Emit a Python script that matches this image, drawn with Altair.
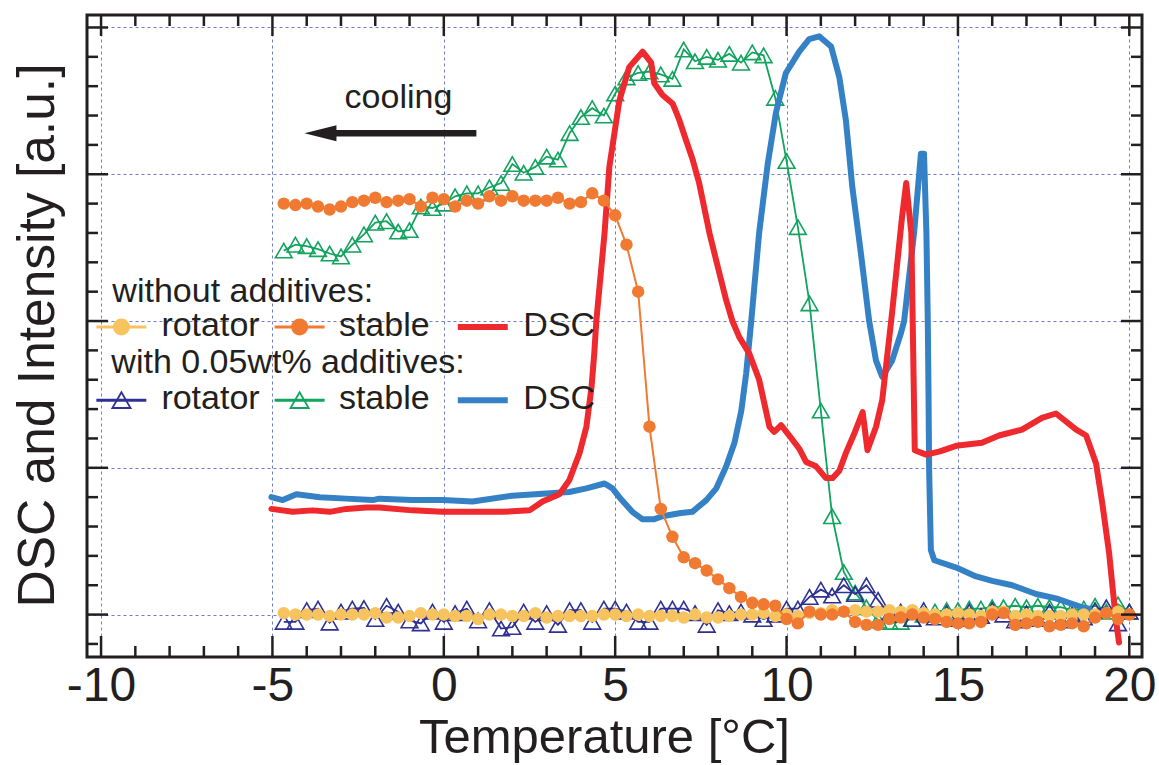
import altair as alt
import pandas as pd

# ---------------- data ----------------
T_STEP = [-4.67, -4.33, -4.00, -3.67, -3.33, -3.00, -2.67, -2.33, -2.00, -1.67,
          -1.33, -1.00, -0.67, -0.33, 0.00, 0.33, 0.67, 1.00, 1.33, 1.67,
          2.00, 2.33, 2.67, 3.00, 3.33, 3.67, 4.00, 4.33, 4.67, 5.00,
          5.33, 5.67, 6.00, 6.33, 6.67, 7.00, 7.33, 7.67, 8.00, 8.33,
          8.67, 9.00, 9.33, 9.67, 10.00, 10.33, 10.67, 11.00, 11.33, 11.67,
          12.00, 12.33, 12.67, 13.00, 13.33, 13.67, 14.00, 14.33, 14.67, 15.00,
          15.33, 15.67, 16.00, 16.33, 16.67, 17.00, 17.33, 17.67, 18.00, 18.33,
          18.67, 19.00, 19.33, 19.67, 20.00]

# without additives: rotator (yellow) and stable (orange)
ROT_NO = [0.01, 0.00, 0.00, 0.00, -0.01, 0.00, 0.00, 0.00, 0.01,
          -0.02, -0.02, -0.01, 0.01, 0.00, 0.00, -0.01, -0.01, -0.03, 0.00,
          0.00, -0.01, -0.01, 0.01, -0.02, -0.01, -0.01, -0.01, -0.01, 0.00,
          0.00, -0.01, 0.00, -0.01, -0.01, -0.01, -0.02, 0.00, -0.02, -0.02,
          -0.01, 0.00, 0.00, 0.01, -0.01, 0.00, -0.01, 0.01, 0.01, 0.03, 0.02,
          0.03, 0.02, 0.02, 0.03, 0.02, 0.03, 0.01, 0.00, 0.00, 0.01,
          0.00, -0.01, 0.02, 0.02, -0.01, 0.00, -0.01, -0.01, -0.01, 0.00,
          0.00, 0.00, 0.01, 0.02, 0.00]
STAB_NO = [2.80, 2.79, 2.80, 2.78, 2.76, 2.78, 2.81, 2.82, 2.84, 2.81,
           2.82, 2.83, 2.78, 2.84, 2.83, 2.78, 2.82, 2.80, 2.85, 2.82,
           2.85, 2.82, 2.82, 2.82, 2.84, 2.80, 2.81, 2.87, 2.82, 2.72,
           2.52, 2.20, 1.28, 0.72, 0.53, 0.39, 0.35, 0.30, 0.24, 0.18,
           0.12, 0.08, 0.07, 0.06, -0.03, -0.06, 0.02, 0.00, 0.00, 0.02,
           -0.05, -0.07, -0.07, -0.03, -0.02, 0.00, -0.02, -0.03, -0.05, -0.06,
           -0.06, -0.05, 0.00, 0.01, -0.07, -0.06, -0.05, -0.08, -0.07, -0.06,
           -0.08, -0.02, 0.01, -0.03, 0.00]

# with 0.05wt% additives: rotator (navy) and stable (green)
ROT_ADD = [-0.05, -0.05, 0.03, 0.04, -0.055, 0.02, 0.04, 0.045, -0.03, 0.06,
           0.02, -0.04, -0.06, 0.02, -0.05, 0.01, 0.04, -0.04, 0.03, -0.095,
           -0.085, 0.02, -0.05, 0.01, -0.07, 0.03, 0.03, -0.05, 0.04, 0.04,
           0.02, -0.05, -0.05, 0.04, 0.04, 0.04, 0.01, -0.07, 0.03,
           0.01, 0.02, 0.00, -0.03, 0.00, 0.04, 0.04, 0.12, 0.17, 0.13,
           0.20, 0.14, 0.20, 0.10, 0.00, 0.02, -0.03, 0.03, -0.02, 0.01,
           -0.03, 0.02, -0.01, 0.03, 0.00, -0.04, 0.01, -0.03, 0.02, -0.04,
           0.00, -0.02, 0.03, 0.05, -0.06, 0.02]
STAB_ADD = [2.48, 2.52, 2.51, 2.49, 2.46, 2.44, 2.52, 2.59, 2.67, 2.68,
            2.61, 2.62, 2.78, 2.77, 2.80, 2.85, 2.87, 2.87, 2.91, 2.94,
            3.07, 3.01, 3.05, 3.12, 3.10, 3.28, 3.39, 3.45, 3.40, 3.55,
            3.66, 3.69, 3.70, 3.68, 3.65, 3.85, 3.77, 3.80, 3.78, 3.82,
            3.76, 3.83, 3.81, 3.52, 3.09, 2.64, 2.12, 1.39, 0.67, 0.29,
            0.15, 0.05, -0.04, -0.05, -0.05, -0.03, 0.00, 0.02, 0.03, 0.03,
            0.04, 0.04, 0.05, 0.05, 0.06, 0.05, 0.06, 0.05, 0.05, 0.03,
            0.04, 0.06, 0.02, 0.07, 0.02]

# DSC without additives (red)
T_DSC_NO = [-5.03, -4.41, -3.83, -3.33, -2.84, -2.26, -1.88, -0.92, -0.04, 0.84,
            1.71, 2.50, 2.88, 3.37, 3.66, 3.96, 4.16, 4.31, 4.39, 4.45,
            4.69, 4.83, 5.12, 5.41, 5.80, 6.05, 6.14, 6.38, 6.68, 6.87,
            7.07, 7.26, 7.45, 7.75, 7.95, 8.24, 8.42, 8.62, 8.91, 9.20,
            9.50, 9.64, 9.84, 10.08, 10.37, 10.57, 10.86, 11.15, 11.34, 11.54,
            11.73, 11.97, 12.22, 12.36, 12.61, 12.79, 13.08, 13.37, 13.49, 13.64,
            13.68, 13.74, 14.07, 14.45, 14.95, 15.70, 16.20, 16.87, 17.45, 17.86,
            18.45, 18.74, 19.03, 19.21, 19.41, 19.61, 19.70]
DSC_NO = [0.72, 0.70, 0.71, 0.70, 0.72, 0.73, 0.73, 0.71, 0.70, 0.70,
          0.70, 0.71, 0.77, 0.82, 0.915, 1.10, 1.28, 1.55, 1.78, 2.00,
          2.60, 3.05, 3.50, 3.73, 3.835, 3.76, 3.62, 3.54, 3.48, 3.37,
          3.23, 3.10, 2.94, 2.60, 2.41, 2.14, 2.00, 1.89, 1.78, 1.60,
          1.28, 1.245, 1.29, 1.22, 1.13, 1.04, 1.01, 0.93, 0.93, 0.98,
          1.10, 1.23, 1.38, 1.12, 1.28, 1.46, 2.06, 2.71, 2.94, 2.60,
          2.00, 1.12, 1.09, 1.11, 1.15, 1.17, 1.22, 1.26, 1.34, 1.37,
          1.26, 1.22, 1.03, 0.76, 0.42, -0.04, -0.19]

# DSC with additives (blue)
T_DSC_ADD = [-5.03, -4.70, -4.30, -3.62, -2.85, -2.08, -1.88, -0.92, -0.04, 0.84,
             2.00, 2.99, 3.66, 4.16, 4.69, 4.92, 5.12, 5.50, 5.79, 6.14,
             6.38, 6.87, 7.25, 7.66, 7.95, 8.24, 8.48, 8.68, 8.82, 8.97,
             9.20, 9.45, 9.69, 9.98, 10.37, 10.66, 10.95, 11.30, 11.54, 11.73,
             11.92, 12.17, 12.41, 12.61, 12.79, 13.08, 13.34, 13.43, 13.72, 13.92,
             14.01, 14.08, 14.12, 14.14, 14.16, 14.21, 14.31, 14.95, 15.53, 16.00,
             16.58, 17.28, 17.86, 18.62, 18.82]
DSC_ADD = [0.80, 0.78, 0.82, 0.80, 0.79, 0.78, 0.79, 0.78, 0.78, 0.77,
           0.81, 0.825, 0.835, 0.86, 0.893, 0.86, 0.80, 0.70, 0.65, 0.65,
           0.67, 0.69, 0.70, 0.78, 0.86, 1.01, 1.17, 1.39, 1.64, 2.00,
           2.60, 3.07, 3.42, 3.69, 3.835, 3.92, 3.94, 3.87, 3.66, 3.37,
           2.91, 2.46, 2.00, 1.73, 1.62, 1.73, 1.92, 2.00, 2.60, 3.14,
           3.14, 2.60, 2.00, 1.55, 0.98, 0.44, 0.37, 0.32, 0.26, 0.23,
           0.20, 0.14, 0.11, 0.05, 0.04]

X_MAJOR = [-10, -5, 0, 5, 10, 15, 20]
X_MINOR = [-9, -8, -7, -6, -4, -3, -2, -1, 1, 2, 3, 4, 6, 7, 8, 9,
           11, 12, 13, 14, 16, 17, 18, 19]
Y_MAJOR = [0, 1, 2, 3, 4]
Y_MINOR = [-0.2, 0.2, 0.4, 0.6, 0.8, 1.2, 1.4, 1.6, 1.8, 2.2, 2.4, 2.6, 2.8,
           3.2, 3.4, 3.6, 3.8]

X_DOMAIN = [-10.41, 20.37]
Y_DOMAIN = [-0.289, 4.085]

# legend / annotation content (data coordinates)
LEG_HEAD = ["without additives:", "with 0.05wt% additives:"]
LEG_HEAD_T = [-9.67, -9.70]
LEG_HEAD_V = [2.131, 1.643]
LEG_LABELS = ["rotator", "stable", "DSC", "rotator", "stable", "DSC"]
LEG_TEXT_T = [-8.24, -3.06, 2.32, -8.24, -3.06, 2.32]
LEG_TEXT_V = [1.897, 1.897, 1.897, 1.404, 1.404, 1.404]
LEG_LINE_T1 = [-10.137, -4.936, 0.408, -10.137, -4.936, 0.408]
LEG_LINE_T2 = [-8.679, -3.478, 1.866, -8.679, -3.478, 1.866]
LEG_LINE_V = [1.960, 1.960, 1.960, 1.461, 1.461, 1.461]
LEG_MARK_T = [-9.405, -4.207]

# ---------------- styling ----------------
FONT = "Liberation Sans"
INK = "#231f20"
GRID = "#6f7fcc"
C_YEL = "#f6c35e"
C_ORA = "#f07a31"
C_RED = "#ee2a2f"
C_NAVY = "#2e3192"
C_GRN = "#12a35e"
C_BLU = "#3581c6"

W, H = 1055, 642

xscale = alt.Scale(domain=X_DOMAIN, nice=False, zero=False)
yscale = alt.Scale(domain=Y_DOMAIN, nice=False, zero=False)

xaxis = alt.Axis(values=X_MAJOR, title="Temperature [°C]",
                 labelExpr="datum.value < 0 ? '-' + abs(datum.value) : '' + datum.value",
                 ticks=False, tickSize=0, domain=False, grid=True,
                 gridDash=[3, 3], gridColor=GRID, gridWidth=1,
                 labelFont=FONT, labelFontSize=48, labelColor=INK, labelPadding=5,
                 labelFlush=False, labelOverlap=False,
                 titleFont=FONT, titleFontSize=49, titleFontWeight="normal",
                 titleColor=INK, titleX=517, titleY=95,
                 titleBaseline="alphabetic", titleAlign="center")
yaxis = alt.Axis(values=Y_MAJOR, title="DSC and Intensity [a.u.]",
                 labels=False, ticks=False, tickSize=0, domain=False, grid=True,
                 gridDash=[3, 3], gridColor=GRID, gridWidth=1,
                 titleFont=FONT, titleFontSize=51.5, titleFontWeight="normal",
                 titleColor=INK, titleAngle=270, titleX=-34, titleY=320,
                 titleBaseline="alphabetic", titleAlign="center")


def X(f="T"):
    return alt.X(f"{f}:Q", scale=xscale, axis=xaxis)


def Y(f="v"):
    return alt.Y(f"{f}:Q", scale=yscale, axis=yaxis)


def series(T, V):
    return pd.DataFrame({"T": T, "v": V})


layers = []

# with additives: stable (green), rotator (navy) - open triangles
for vals, col in [(STAB_ADD, C_GRN), (ROT_ADD, C_NAVY)]:
    d = series(T_STEP, vals)
    layers.append(alt.Chart(d).mark_line(color=col, strokeWidth=1.8).encode(x=X(), y=Y()))
    layers.append(alt.Chart(d).mark_point(shape="triangle-up", filled=False, size=280,
                                          strokeWidth=1.6, color=col, opacity=1)
                  .encode(x=X(), y=Y()))

# DSC curves
layers.append(alt.Chart(series(T_DSC_ADD, DSC_ADD)).mark_line(
    color=C_BLU, strokeWidth=6, strokeJoin="round", strokeCap="round").encode(x=X(), y=Y()))
layers.append(alt.Chart(series(T_DSC_NO, DSC_NO)).mark_line(
    color=C_RED, strokeWidth=6, strokeJoin="round", strokeCap="round").encode(x=X(), y=Y()))

# without additives: rotator (yellow), stable (orange) - filled circles
for vals, col in [(ROT_NO, C_YEL), (STAB_NO, C_ORA)]:
    d = series(T_STEP, vals)
    layers.append(alt.Chart(d).mark_line(color=col, strokeWidth=2).encode(x=X(), y=Y()))
    layers.append(alt.Chart(d).mark_point(shape="circle", filled=True, size=155,
                                          color=col, opacity=1)
                  .encode(x=X(), y=Y()))


# inward ticks on all four sides
def xticks(vals, length):
    d = pd.DataFrame({"T": vals})
    bot = alt.Chart(d).mark_rule(color=INK, strokeWidth=2.5).encode(
        x=X(), y=alt.value(H), y2=alt.value(H - length))
    top = alt.Chart(d).mark_rule(color=INK, strokeWidth=2.5).encode(
        x=X(), y=alt.value(0), y2=alt.value(length))
    return [bot, top]


def yticks(vals, length):
    d = pd.DataFrame({"v": vals})
    left = alt.Chart(d).mark_rule(color=INK, strokeWidth=2.5).encode(
        y=Y(), x=alt.value(0), x2=alt.value(length))
    right = alt.Chart(d).mark_rule(color=INK, strokeWidth=2.5).encode(
        y=Y(), x=alt.value(W), x2=alt.value(W - length))
    return [left, right]


layers += xticks(X_MAJOR, 21) + xticks(X_MINOR, 11)
layers += yticks(Y_MAJOR, 21) + yticks(Y_MINOR, 11)

# legend
leg_lines = pd.DataFrame({
    "T": LEG_LINE_T1, "T2": LEG_LINE_T2, "v": LEG_LINE_V,
    "color": [C_YEL, C_ORA, C_RED, C_NAVY, C_GRN, C_BLU],
    "width": [3, 3, 6, 3, 3, 6]})
layers.append(alt.Chart(leg_lines).mark_rule().encode(
    x=X(), x2="T2:Q", y=Y(),
    color=alt.Color("color:N", scale=None),
    strokeWidth=alt.StrokeWidth("width:Q", scale=None)))

leg_dots = pd.DataFrame({"T": LEG_MARK_T, "v": [LEG_LINE_V[0]] * 2,
                         "color": [C_YEL, C_ORA]})
layers.append(alt.Chart(leg_dots).mark_point(shape="circle", filled=True, size=289, opacity=1)
              .encode(x=X(), y=Y(), color=alt.Color("color:N", scale=None)))
leg_tri = pd.DataFrame({"T": LEG_MARK_T, "v": [LEG_LINE_V[3]] * 2,
                        "color": [C_NAVY, C_GRN]})
layers.append(alt.Chart(leg_tri).mark_point(shape="triangle-up", filled=False, size=330,
                                            strokeWidth=1.8, opacity=1)
              .encode(x=X(), y=Y(), color=alt.Color("color:N", scale=None)))

leg_text = pd.DataFrame({"T": LEG_HEAD_T + LEG_TEXT_T,
                         "v": LEG_HEAD_V + LEG_TEXT_V,
                         "label": LEG_HEAD + LEG_LABELS})
layers.append(alt.Chart(leg_text).mark_text(align="left", baseline="alphabetic",
                                            font=FONT, fontSize=34, color=INK)
              .encode(x=X(), y=Y(), text="label:N"))

# "cooling" arrow annotation
cool = pd.DataFrame({"T": [-2.895], "v": [3.449], "label": ["cooling"]})
layers.append(alt.Chart(cool).mark_text(align="left", baseline="alphabetic",
                                        font=FONT, fontSize=34, color=INK)
              .encode(x=X(), y=Y(), text="label:N"))
arrow = pd.DataFrame({"T": [0.95], "T2": [-3.35], "v": [3.279]})
layers.append(alt.Chart(arrow).mark_rule(color=INK, strokeWidth=6.5)
              .encode(x=X(), x2="T2:Q", y=Y()))
head = pd.DataFrame({"T": [-3.60], "v": [3.279]})
layers.append(alt.Chart(head).mark_point(shape="M-1,0L1,-0.5L1,0.5Z", size=1024,
                                         filled=True, color=INK, opacity=1)
              .encode(x=X(), y=Y()))

chart = alt.layer(*layers).properties(
    width=W, height=H,
    padding={"left": 87, "top": 15, "right": 17, "bottom": 108},
    autosize=alt.AutoSizeParams(type="none"),
    background="white",
).configure_view(stroke=INK, strokeWidth=3)

chart.save("out.html", embed_options={"renderer": "svg", "actions": False})
